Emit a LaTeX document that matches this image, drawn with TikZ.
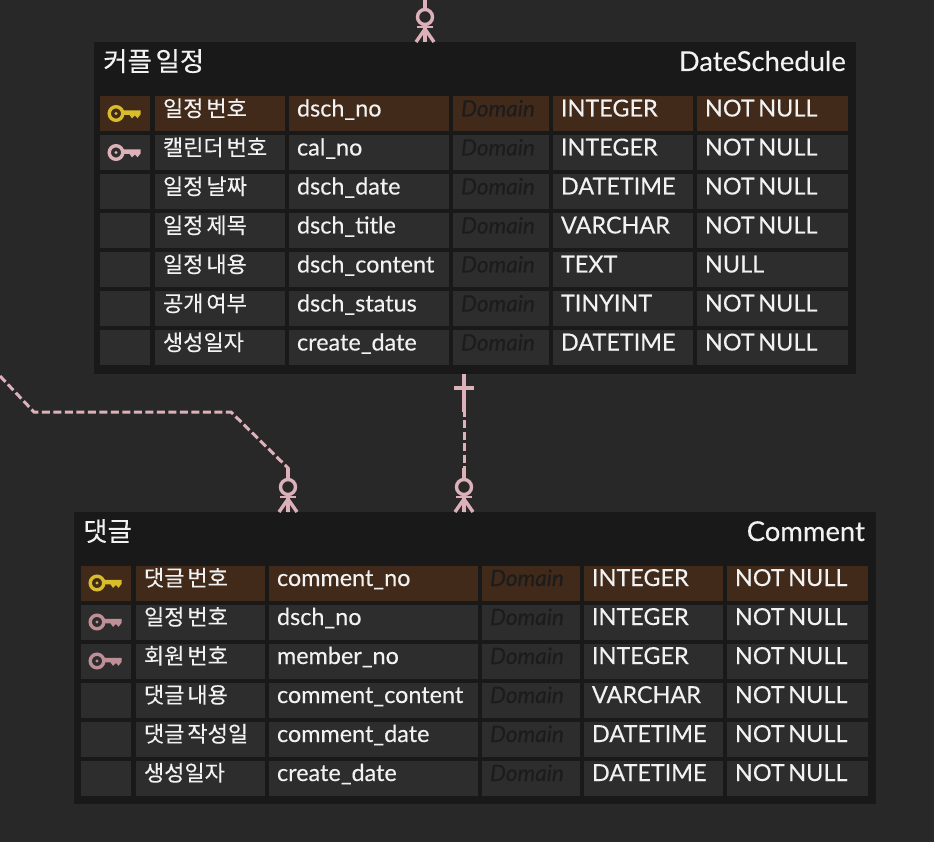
\documentclass[tikz,border=0pt]{standalone}
\usepackage{fontspec}
\setmainfont{Lato}[FakeBold=0.25, WordSpace=0.6]
\newfontfamily\kofont{Noto Sans CJK KR}[WordSpace=0.6, FakeBold=0.2]
\usepackage{xcolor}
\definecolor{erdbg}{HTML}{282828}
\definecolor{erdtable}{HTML}{191919}
\definecolor{erdcell}{HTML}{2D2D2D}
\definecolor{erdpk}{HTML}{412A1A}
\definecolor{erdtext}{HTML}{F2F2F2}
\definecolor{erddomain}{HTML}{1C1C1C}
\definecolor{erdpink}{HTML}{DDB1B9}
\definecolor{erdfk}{HTML}{BE8F97}
\definecolor{erdgold}{HTML}{D8BC2C}
\usetikzlibrary{positioning}
\newcommand{\erdrow}[7]{%
  \node[keycell, #3] (#1k) at #2 {};
  \node[kocell, #3, right=5pt of #1k] (#1l) {#4};
  \node[namecell, #3, right=4pt of #1l] (#1n) {#5};
  \node[domaincell, #3, right=4pt of #1n] (#1d) {Domain};
  \node[typecell, #3, right=4pt of #1d] (#1t) {#6};
  \node[nullcell, #3, right=4pt of #1t] (#1u) {#7};
}

\begin{document}
\begin{tikzpicture}[
  x=1pt, y=-1pt,
  cell/.style={rectangle, outer sep=0pt, inner xsep=8pt, inner ysep=0pt,
    text height=20.5pt, text depth=14.5pt, align=flush left, text=erdtext,
    font=\fontsize{23.4}{23.4}\selectfont},
  keycell/.style={cell, text width=34pt},
  kocell/.style={cell, text width=\kowidth, font=\kofont\fontsize{22}{22}\selectfont},
  namecell/.style={cell, text width=\namewidth},
  domaincell/.style={cell, text width=\domainwidth, text=erddomain,
    font=\itshape\fontsize{22.5}{22.5}\selectfont},
  typecell/.style={cell, text width=\typewidth},
  nullcell/.style={cell, text width=\nullwidth},
  plainrow/.style={fill=erdcell},
  pkrow/.style={fill=erdpk},
  tablebox/.style={rectangle, fill=erdtable, outer sep=0pt, inner sep=0pt},
  titleko/.style={anchor=base west, inner sep=0pt, text=erdtext,
    font=\kofont\fontsize{26.5}{26.5}\selectfont},
  titleen/.style={anchor=base east, inner sep=0pt, text=erdtext,
    font=\fontsize{27.4}{27.4}\selectfont},
  rellink/.style={draw=erdpink, line width=3pt},
  keyicon/.pic={
    \draw[#1, line width=3.4pt, fill=none] (-9,0) circle (6.8);
    \fill[#1] (-9,0) circle (1.6);
    \fill[#1] (-3,-3.2) -- (15.5,-3.2) -- (15.5,1) -- (12.5,4.8) -- (10,2) -- (7,4.8)
      -- (4.5,1.4) -- (-3,1.4) -- cycle;
  },
  manyopt/.pic={
    \draw[erdpink, line width=3.4pt] (0,-44) -- (0,-33);
    \draw[erdpink, line width=3.4pt, fill=erdbg] (0,-25) circle (7.5);
    \draw[erdpink, line width=3.4pt] (0,-17) -- (0,0);
    \draw[erdpink, line width=3.4pt] (0,-13) -- (-9,0);
    \draw[erdpink, line width=3.4pt] (0,-13) -- (9,0);
    \draw[erdpink, line width=2.8pt] (-8,-15) -- (8,-15);
  },
  oneonly/.pic={
    \draw[erdpink, line width=3.4pt] (0,0) -- (0,38);
    \draw[erdpink, line width=3.4pt] (-10,14) -- (10,14);
  }
]
\fill[erdbg] (0,0) rectangle (934,842);
\useasboundingbox (0,0) rectangle (934,842);

% DateSchedule
\node[tablebox, anchor=north west, minimum width=762pt, minimum height=332pt] (sched) at (94,42) {};
\node[titleko] (schedko) at (103,71) {커플 일정};
\node[titleen] (scheden) at (846,71) {DateSchedule};
\begin{scope}[
  /utils/exec={\def\kowidth{114pt}\def\namewidth{144pt}\def\domainwidth{80pt}%
    \def\typewidth{124pt}\def\nullwidth{135pt}},
  every node/.append style={anchor=west}]
\erdrow{sa}{(100,113.5)}{pkrow}{일정 번호}{dsch\_no}{INTEGER}{NOT NULL}
\erdrow{sb}{(100,152.5)}{plainrow}{캘린더 번호}{cal\_no}{INTEGER}{NOT NULL}
\erdrow{sc}{(100,191.5)}{plainrow}{일정 날짜}{dsch\_date}{DATETIME}{NOT NULL}
\erdrow{sd}{(100,230.5)}{plainrow}{일정 제목}{dsch\_title}{VARCHAR}{NOT NULL}
\erdrow{se}{(100,269.5)}{plainrow}{일정 내용}{dsch\_content}{TEXT}{NULL}
\erdrow{sf}{(100,308.5)}{plainrow}{공개 여부}{dsch\_status}{TINYINT}{NOT NULL}
\erdrow{sg}{(100,347.5)}{plainrow}{생성일자}{create\_date}{DATETIME}{NOT NULL}
\end{scope}

% Comment
\node[tablebox, anchor=north west, minimum width=802pt, minimum height=292pt] (cmt) at (74,512) {};
\node[titleko] (cmtko) at (83,541) {댓글};
\node[titleen] (cmten) at (865,541) {Comment};
\begin{scope}[
  /utils/exec={\def\kowidth{113pt}\def\namewidth{193pt}\def\domainwidth{82pt}%
    \def\typewidth{123pt}\def\nullwidth{125pt}},
  every node/.append style={anchor=west}]
\erdrow{ca}{(81,583)}{pkrow}{댓글 번호}{comment\_no}{INTEGER}{NOT NULL}
\erdrow{cb}{(81,622)}{plainrow}{일정 번호}{dsch\_no}{INTEGER}{NOT NULL}
\erdrow{cc}{(81,661)}{plainrow}{회원 번호}{member\_no}{INTEGER}{NOT NULL}
\erdrow{cd}{(81,700)}{plainrow}{댓글 내용}{comment\_content}{VARCHAR}{NOT NULL}
\erdrow{ce}{(81,739)}{plainrow}{댓글 작성일}{comment\_date}{DATETIME}{NOT NULL}
\erdrow{cf}{(81,778)}{plainrow}{생성일자}{create\_date}{DATETIME}{NOT NULL}
\end{scope}

% key icons
\path (sak.center) pic {keyicon=erdgold};
\path (sbk.center) pic {keyicon=erdpink};
\path (cak.center) pic {keyicon=erdgold};
\path (cbk.center) pic {keyicon=erdfk};
\path (cck.center) pic {keyicon=erdfk};

% relations
\coordinate (topend) at (425,0);
\coordinate (leftend) at (0,376);
\coordinate (schedfoot) at (425,42);
\coordinate (schedbar) at (464,374);
\coordinate (cmtfoota) at (288,512);
\coordinate (cmtfootb) at (464,512);
\draw[rellink, line width=3.4pt] (topend) -- (schedfoot);
\draw[rellink, dash pattern=on 8pt off 3.5pt] (leftend) -- (34,412) -- (231,412) -- (288,468) -- (cmtfoota);
\draw[rellink, dash pattern=on 8pt off 3.5pt] (schedbar) -- (cmtfootb);
\path (schedfoot) pic {manyopt};
\path (cmtfoota) pic {manyopt};
\path (cmtfootb) pic {manyopt};
\path (schedbar) pic {oneonly};
\end{tikzpicture}
\end{document}
